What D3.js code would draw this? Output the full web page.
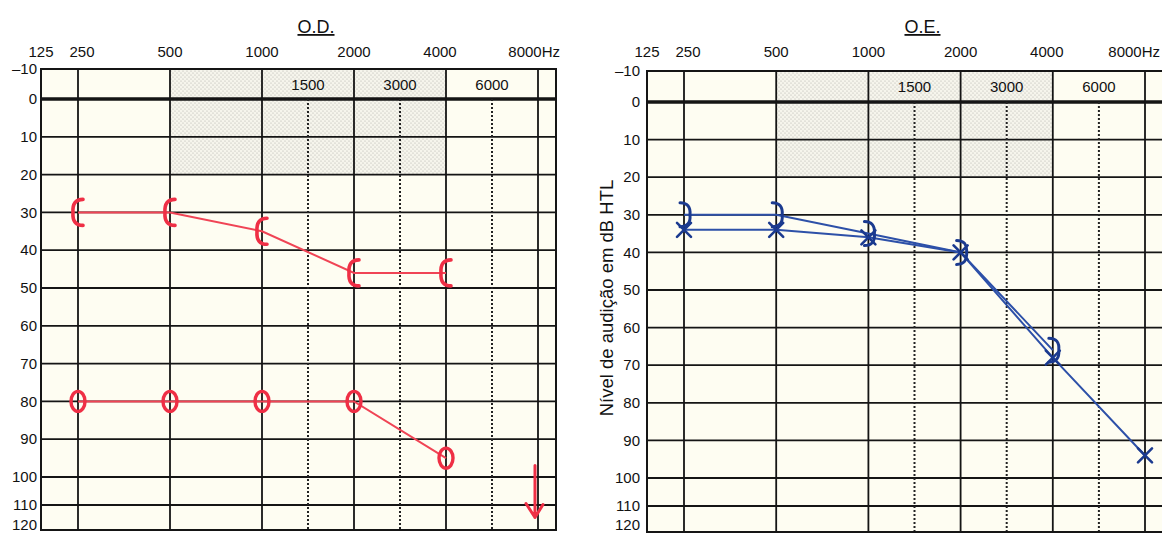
<!DOCTYPE html>
<html>
<head>
<meta charset="utf-8">
<script src="https://cdn.jsdelivr.net/npm/d3@7"></script>
<style>
  html, body { margin: 0; padding: 0; background: #fff; }
  svg { display: block; font-family: "Liberation Sans", Arial, Helvetica, sans-serif; }
</style>
</head>
<body>
<div id="chart"></div>
<script>
// --- data ---
const mainFreqs = [250, 500, 1000, 2000, 4000, 8000];
const midFreqs = [1500, 3000, 6000];
const topLabels = ['125', '250', '500', '1000', '2000', '4000', '8000Hz'];
const dbTicks = [-10, 0, 10, 20, 30, 40, 50, 60, 70, 80, 90, 100, 110, 120];

// O.D. (right ear, red)
const odAirFreqs = [250, 500, 1000, 2000, 4000];
const odAir = [80, 80, 80, 80, 95];
const odBoneFreqs = [250, 500, 1000, 2000, 4000];
const odBone = [30, 30, 35, 46, 46];
const odNoRespFreqs = [8000];
const odNoResp = [115];

// O.E. (left ear, blue)
const oeAirFreqs = [250, 500, 1000, 2000, 4000, 8000];
const oeAir = [34, 34, 36, 40, 68, 94];
const oeBoneFreqs = [250, 500, 1000, 2000, 4000];
const oeBone = [30, 30, 35, 40, 66];

const width = 1162, height = 535;

const panels = [
    { title: 'O.D.', x0: 78, x1: 538, boxL: 41, boxR: 556, yr: [69, 99, 477, 505, 530], gap: 4, hzEnd: 560,
      air: 'circle', bone: 'lbracket', color: '#ef2f45', lineColor: '#f04455',
      airFreqs: odAirFreqs, airVals: odAir, boneFreqs: odBoneFreqs, boneVals: odBone,
      nrFreqs: odNoRespFreqs, nrVals: odNoResp },
    { title: 'O.E.', x0: 684, x1: 1145, boxL: 647, boxR: 1163, yr: [71, 102, 478, 506, 532], gap: 7, hzEnd: 1160,
      air: 'cross', bone: 'rbracket', color: '#1b3a8f', lineColor: '#2d50a8',
      airFreqs: oeAirFreqs, airVals: oeAir, boneFreqs: oeBoneFreqs, boneVals: oeBone,
      nrFreqs: [], nrVals: [] }
];

// octave index on the audiogram form: half-octave freqs sit midway
function octave(f) {
    const main = mainFreqs.filter(m => m <= f).pop();
    const base = Math.log2(main / 250);
    return f === main ? base : base + 0.5;
}

const svg = d3.select('#chart').append('svg')
    .attr('width', width)
    .attr('height', height);

const defs = svg.append('defs');
const pat = defs.append('pattern')
    .attr('id', 'stipple')
    .attr('patternUnits', 'userSpaceOnUse')
    .attr('width', 4).attr('height', 4);
pat.append('rect').attr('width', 4).attr('height', 4).attr('fill', '#f6f5ec');
pat.append('circle').attr('cx', 1).attr('cy', 1).attr('r', 0.6).attr('fill', '#b0b0aa');
pat.append('circle').attr('cx', 3).attr('cy', 3).attr('r', 0.6).attr('fill', '#b0b0aa');

panels.forEach(p => {
    const xo = d3.scaleLinear().domain([0, 5]).range([p.x0, p.x1]);
    const x = f => xo(octave(f));
    const y = d3.scaleLinear().domain([-10, 0, 100, 110, 120]).range(p.yr);

    const g = svg.append('g');
    const top = y(-10), bottom = y(120);

    // paper
    g.append('rect')
        .attr('x', p.boxL).attr('y', top)
        .attr('width', p.boxR - p.boxL).attr('height', bottom - top)
        .attr('fill', '#fefdf2');

    // shaded speech zone
    g.append('rect')
        .attr('x', x(500)).attr('y', top)
        .attr('width', x(4000) - x(500)).attr('height', y(20) - top)
        .attr('fill', 'url(#stipple)');

    // horizontal grid
    g.selectAll('.hline')
        .data(dbTicks)
        .enter()
        .append('line')
        .attr('x1', p.boxL).attr('x2', p.boxR)
        .attr('y1', d => y(d)).attr('y2', d => y(d))
        .attr('stroke', '#151515')
        .attr('stroke-width', d => d === 0 ? 3.6 : 1.8);

    // solid verticals
    g.selectAll('.vline')
        .data(mainFreqs)
        .enter()
        .append('line')
        .attr('x1', d => x(d)).attr('x2', d => x(d))
        .attr('y1', top).attr('y2', bottom)
        .attr('stroke', '#151515')
        .attr('stroke-width', 1.8);

    // dotted half-octave verticals
    g.selectAll('.dline')
        .data(midFreqs)
        .enter()
        .append('line')
        .attr('x1', d => x(d)).attr('x2', d => x(d))
        .attr('y1', y(0)).attr('y2', bottom)
        .attr('stroke', '#222')
        .attr('stroke-width', 2)
        .attr('stroke-dasharray', '2,2');

    // frame
    g.append('rect')
        .attr('x', p.boxL).attr('y', top)
        .attr('width', p.boxR - p.boxL).attr('height', bottom - top)
        .attr('fill', 'none')
        .attr('stroke', '#151515')
        .attr('stroke-width', 2);

    // y tick labels (bottom one nudged up so it stays on the page)
    g.selectAll('.ylab')
        .data(dbTicks)
        .enter()
        .append('text')
        .attr('x', p.boxL - p.gap)
        .attr('y', d => Math.min(y(d), height - 10))
        .attr('dy', '0.35em')
        .attr('text-anchor', 'end')
        .attr('font-size', 15)
        .attr('fill', '#111')
        .text(d => d < 0 ? '\u2013' + Math.abs(d) : d);

    // top frequency labels
    const topX = [p.boxL, x(250) + 4, x(500), x(1000), x(2000), x(4000) - 6, p.hzEnd];
    g.selectAll('.xlab')
        .data(topLabels)
        .enter()
        .append('text')
        .attr('x', (d, i) => topX[i])
        .attr('y', 57)
        .attr('text-anchor', (d, i) => i === topLabels.length - 1 ? 'end' : 'middle')
        .attr('font-size', 15)
        .attr('fill', '#111')
        .text(d => d);

    // half-octave labels inside the top row
    g.selectAll('.mlab')
        .data(midFreqs)
        .enter()
        .append('text')
        .attr('x', d => x(d))
        .attr('y', (y(-10) + y(0)) / 2)
        .attr('dy', '0.38em')
        .attr('text-anchor', 'middle')
        .attr('font-size', 15)
        .attr('fill', '#111')
        .text(d => d);

    // title
    g.append('text')
        .attr('x', x(1500) + 8)
        .attr('y', 33)
        .attr('text-anchor', 'middle')
        .attr('font-size', 18)
        .attr('fill', '#111')
        .style('text-decoration', 'underline')
        .text(p.title);

    // lines
    const line = d3.line().x(d => x(d[0])).y(d => y(d[1]));
    const bonePts = p.boneFreqs.map((f, i) => [f, p.boneVals[i]]);
    const airPts = p.airFreqs.map((f, i) => [f, p.airVals[i]]);

    [bonePts, airPts].forEach(pts => {
        g.append('path')
            .attr('d', line(pts))
            .attr('fill', 'none')
            .attr('stroke', p.lineColor)
            .attr('stroke-width', 2);
    });

    // bone conduction brackets
    g.selectAll('.bone')
        .data(bonePts)
        .enter()
        .append('path')
        .attr('d', d => {
            const cx = x(d[0]), cy = y(d[1]);
            if (p.bone === 'lbracket') {
                return `M${cx + 5},${cy - 13} Q${cx - 6},${cy - 13} ${cx - 5},${cy} Q${cx - 6},${cy + 13} ${cx + 5},${cy + 13}`;
            }
            return `M${cx - 4},${cy - 12} Q${cx + 7},${cy - 12} ${cx + 6},${cy} Q${cx + 7},${cy + 12} ${cx - 4},${cy + 12}`;
        })
        .attr('fill', 'none')
        .attr('stroke', p.color)
        .attr('stroke-width', p.bone === 'lbracket' ? 3.6 : 3)
        .attr('stroke-linecap', 'round');

    // air conduction symbols
    if (p.air === 'circle') {
        g.selectAll('.air')
            .data(airPts)
            .enter()
            .append('ellipse')
            .attr('cx', d => x(d[0]))
            .attr('cy', d => y(d[1]))
            .attr('rx', 7)
            .attr('ry', 10)
            .attr('fill', 'none')
            .attr('stroke', p.color)
            .attr('stroke-width', 3.4);
    } else {
        g.selectAll('.air')
            .data(airPts)
            .enter()
            .append('path')
            .attr('d', d => {
                const cx = x(d[0]), cy = y(d[1]);
                return `M${cx - 7},${cy - 7}L${cx + 7},${cy + 7}M${cx + 7},${cy - 7}L${cx - 7},${cy + 7}`;
            })
            .attr('fill', 'none')
            .attr('stroke', p.color)
            .attr('stroke-width', 2.6)
            .attr('stroke-linecap', 'round');
    }

    // no-response arrows
    const nrPts = p.nrFreqs.map((f, i) => [f, p.nrVals[i]]);
    g.selectAll('.nr')
        .data(nrPts)
        .enter()
        .append('path')
        .attr('d', d => {
            const cx = x(d[0]) - 3, cy = y(d[1]);
            return `M${cx},${cy - 52}L${cx},${cy}M${cx - 9},${cy - 14}L${cx},${cy}L${cx + 8},${cy - 13}`;
        })
        .attr('fill', 'none')
        .attr('stroke', p.color)
        .attr('stroke-width', 3)
        .attr('stroke-linecap', 'round')
        .attr('stroke-linejoin', 'round');
});

// y axis title on the O.E. panel
svg.append('text')
    .attr('transform', 'translate(607, 298) rotate(-90)')
    .attr('text-anchor', 'middle')
    .attr('dy', '0.35em')
    .attr('font-size', 18.5)
    .attr('fill', '#111')
    .text('Nível de audição em dB HTL');
</script>
</body>
</html>
